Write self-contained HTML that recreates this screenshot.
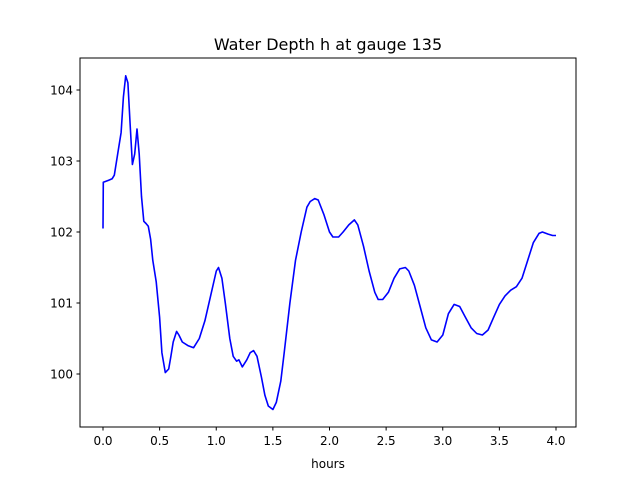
<!DOCTYPE html>
<html><head><meta charset="utf-8"><style>
body{margin:0;background:#fff;font-family:"Liberation Sans","DejaVu Sans",sans-serif;}
svg text{font-family:"DejaVu Sans","Liberation Sans",sans-serif;}
</style></head><body>
<svg id="chart" width="640" height="480">
<rect width="640" height="480" fill="#fff"/>
<text x="328" y="50" text-anchor="middle" font-size="16">Water Depth h at gauge 135</text>
<g id="plot"></g>
<rect x="80" y="58" width="496" height="369" fill="none" stroke="#000" stroke-width="1"/>
<text x="328" y="468" text-anchor="middle" font-size="12">hours</text>
</svg>
<script>
const hours=[0,0.003,0.05,0.08,0.1,0.13,0.16,0.18,0.2,0.22,0.24,0.26,0.28,0.3,0.32,0.34,0.36,0.38,0.4,0.42,0.44,0.47,0.5,0.52,0.55,0.58,0.6,0.62,0.65,0.67,0.7,0.75,0.8,0.85,0.9,0.95,1.0,1.02,1.05,1.08,1.12,1.15,1.18,1.2,1.23,1.27,1.3,1.33,1.36,1.4,1.43,1.46,1.5,1.53,1.57,1.6,1.65,1.7,1.75,1.8,1.83,1.87,1.9,1.95,2.0,2.03,2.08,2.12,2.17,2.22,2.25,2.3,2.35,2.4,2.43,2.47,2.52,2.57,2.62,2.67,2.7,2.75,2.8,2.85,2.9,2.95,3.0,3.05,3.1,3.15,3.2,3.25,3.3,3.35,3.4,3.45,3.5,3.55,3.6,3.65,3.7,3.75,3.8,3.85,3.88,3.93,3.97,4.0];
const depth=[102.05,102.7,102.73,102.75,102.8,103.1,103.4,103.9,104.2,104.1,103.5,102.95,103.1,103.45,103.1,102.5,102.15,102.12,102.08,101.9,101.6,101.3,100.8,100.3,100.02,100.07,100.25,100.45,100.6,100.55,100.45,100.4,100.37,100.5,100.75,101.1,101.45,101.5,101.35,101.0,100.5,100.25,100.18,100.2,100.1,100.2,100.3,100.33,100.25,99.95,99.7,99.55,99.5,99.6,99.9,100.3,101.0,101.6,102.0,102.35,102.43,102.47,102.45,102.25,102.0,101.93,101.93,102.0,102.1,102.17,102.1,101.8,101.45,101.15,101.05,101.05,101.15,101.35,101.48,101.5,101.45,101.25,100.95,100.65,100.48,100.45,100.55,100.85,100.98,100.95,100.8,100.65,100.57,100.55,100.62,100.8,100.98,101.1,101.18,101.23,101.35,101.6,101.85,101.98,102.0,101.97,101.95,101.95];
const xTicks=[0,0.5,1,1.5,2,2.5,3,3.5,4];
const xTickLabels=["0.0","0.5","1.0","1.5","2.0","2.5","3.0","3.5","4.0"];
const yTicks=[100,101,102,103,104];
const yTickLabels=["100","101","102","103","104"];
const NS="http://www.w3.org/2000/svg";
const sx=h=>103+h*113.25;
const sy=v=>374-(v-100)*71;
const g=document.getElementById('plot');
xTicks.forEach((t,i)=>{
  const l=document.createElementNS(NS,'line');
  l.setAttribute('x1',sx(t));l.setAttribute('x2',sx(t));l.setAttribute('y1',427);l.setAttribute('y2',430.5);l.setAttribute('stroke','#000');
  
  
  g.appendChild(l);
  const tx=document.createElementNS(NS,'text');
  tx.setAttribute('x',sx(t));tx.setAttribute('y',445);tx.setAttribute('text-anchor','middle');tx.setAttribute('font-size','12');
  tx.textContent=xTickLabels[i];
  
  
  g.appendChild(tx);
});
yTicks.forEach((t,i)=>{
  const l=document.createElementNS(NS,'line');
  l.setAttribute('x1',76.5);l.setAttribute('x2',80);l.setAttribute('y1',sy(t));l.setAttribute('y2',sy(t));l.setAttribute('stroke','#000');
  
  
  g.appendChild(l);
  const tx=document.createElementNS(NS,'text');
  tx.setAttribute('x',73);tx.setAttribute('y',sy(t)+4.5);tx.setAttribute('text-anchor','end');tx.setAttribute('font-size','12');
  tx.textContent=yTickLabels[i];
  
  
  g.appendChild(tx);
});
const p=document.createElementNS(NS,'polyline');
p.setAttribute('points',hours.map((h,i)=>sx(h).toFixed(1)+','+sy(depth[i]).toFixed(1)).join(' '));
p.setAttribute('fill','none');p.setAttribute('stroke','#0000ff');p.setAttribute('stroke-width','1.6');p.setAttribute('stroke-linejoin','round');


g.appendChild(p);
</script>
</body></html>
